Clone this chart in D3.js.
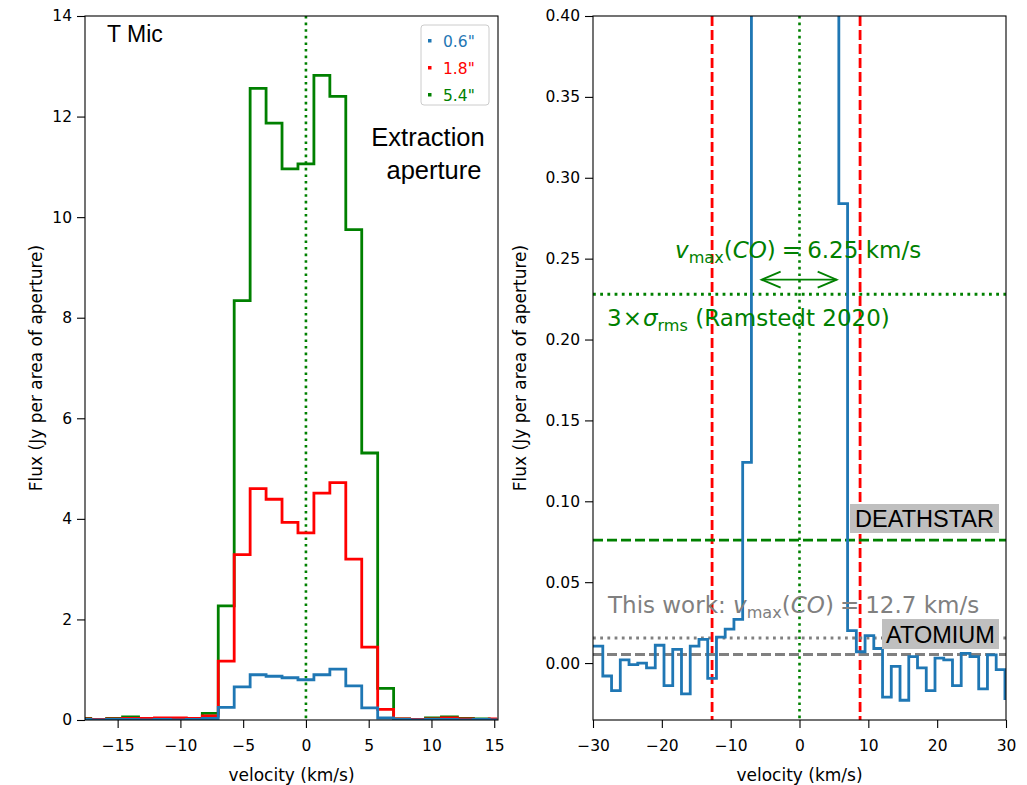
<!DOCTYPE html>
<html><head><meta charset="utf-8">
<script src="https://cdn.jsdelivr.net/npm/d3@7"></script>
<style>
body{margin:0;background:#fff;}
text{font-family:"DejaVu Sans",sans-serif;}
</style></head>
<body>
<svg id="chart" width="1027" height="785"></svg>
<script>
// ---------- data ----------
const leftVelocity = [-17.78,-16.51,-15.24,-13.97,-12.70,-11.43,-10.16,-8.89,-7.62,-6.35,-5.08,-3.81,-2.54,-1.27,0,1.27,2.54,3.81,5.08,6.35,7.62,8.89,10.16,11.43,12.70,13.97,15.24];
const flux06 = [0.01,0.00,0.01,0.01,0.00,0.01,0.00,0.01,0.03,0.25,0.66,0.90,0.87,0.84,0.80,0.90,1.01,0.68,0.24,0.04,0.01,0.00,0.01,0.01,0.00,0.01,0.00];
const flux18 = [0.02,0.01,0.02,0.03,0.03,0.04,0.04,0.03,0.08,1.17,3.29,4.60,4.39,3.93,3.72,4.51,4.72,3.20,1.45,0.21,0.02,0.01,0.02,0.04,0.02,0.01,0.02];
const flux54 = [0.03,0.01,0.03,0.06,0.03,0.02,0.02,0.02,0.13,2.27,8.34,12.56,11.87,10.96,11.06,12.82,12.40,9.75,5.31,0.63,0.02,0.01,0.04,0.06,0.03,0.02,0.01];
const seriesLabels = ['0.6"','1.8"','5.4"'];
const seriesColors = ['#1f77b4','#ff0000','#008000'];

const rightVelocity = [-30.48,-29.21,-27.94,-26.67,-25.40,-24.13,-22.86,-21.59,-20.32,-19.05,-17.78,-16.51,-15.24,-13.97,-12.70,-11.43,-10.16,-8.89,-7.62,-6.35,-5.08,-3.81,-2.54,-1.27,0,1.27,2.54,3.81,5.08,6.35,7.62,8.89,10.16,11.43,12.70,13.97,15.24,16.51,17.78,19.05,20.32,21.59,22.86,24.13,25.40,26.67,27.94,29.21,30.48];
const fluxRight = [0.0105,0.0105,-0.008,-0.017,0.002,-0.001,0.000,-0.003,0.011,-0.014,0.0085,-0.019,0.0105,0.0146,-0.0095,0.016,0.021,0.027,0.124,0.62,0.86,0.95,0.92,0.88,0.86,0.93,1.00,0.84,0.55,0.284,0.020,0.007,0.017,0.009,-0.021,-0.002,-0.023,0.004,-0.003,-0.017,0.003,0.002,-0.014,0.006,0.004,-0.016,0.005,-0.004,-0.022];

const leftXTicks = [-15,-10,-5,0,5,10,15];
const leftYTicks = [0,2,4,6,8,10,12,14];
const rightXTicks = [-30,-20,-10,0,10,20,30];
const rightYTicks = [0,0.05,0.10,0.15,0.20,0.25,0.30,0.35,0.40];

const vmaxLines = [-12.7, 8.8];         // red dashed
const systemic = 0;                      // green dotted
const sigmaLevel = 0.228;                // 3 x sigma_rms (Ramstedt 2020)
const deathstarLevel = 0.076;
const thisWorkLevel = 0.0155;
const atomiumLevel = 0.0053;
const arrowRange = [-5.5, 5.4];
const arrowLevel = 0.237;

// ---------- setup ----------
const svg = d3.select('#chart');
const TOP = 16, BOTTOM = 720;
const L = {x0:85, x1:498, ylab:43}, R = {x0:593, x1:1006, ylab:67};
const tickFont = '15.5px';
const labelFont = '17px';

const xL = d3.scaleLinear().domain([-17.6,15.3]).range([L.x0,L.x1]);
const yL = d3.scaleLinear().domain([0,14]).range([BOTTOM,TOP]);
const xR = d3.scaleLinear().domain([-30,30]).range([R.x0,R.x1]);
const yR = d3.scaleLinear().domain([-0.0352,0.40]).range([BOTTOM,TOP]);

const defs = svg.append('defs');
defs.append('clipPath').attr('id','clipL').append('rect')
  .attr('x',L.x0).attr('y',TOP).attr('width',L.x1-L.x0).attr('height',BOTTOM-TOP);
defs.append('clipPath').attr('id','clipR').append('rect')
  .attr('x',R.x0).attr('y',TOP).attr('width',R.x1-R.x0).attr('height',BOTTOM-TOP);

function axes(x, y, xt, yt, yfmt, box){
  const gx = svg.append('g').attr('transform',`translate(0,${BOTTOM})`)
    .call(d3.axisBottom(x).tickValues(xt).tickSize(8).tickPadding(12).tickSizeOuter(0));
  const gy = svg.append('g').attr('transform',`translate(${box.x0},0)`)
    .call(d3.axisLeft(y).tickValues(yt).tickFormat(yfmt).tickSize(8).tickPadding(5).tickSizeOuter(0));
  [gx,gy].forEach(g=>{
    g.select('.domain').remove();
    g.selectAll('text').style('font-size',tickFont).style('font-family','DejaVu Sans').attr('fill','#000');
    g.selectAll('line').attr('stroke','#000').attr('stroke-width',1.1);
  });
}
function frame(box){
  svg.append('rect').attr('x',box.x0).attr('y',TOP).attr('width',box.x1-box.x0).attr('height',BOTTOM-TOP)
    .attr('fill','none').attr('stroke','#000').attr('stroke-width',1.1);
}
function labels(box){
  svg.append('text').attr('x',(box.x0+box.x1)/2).attr('y',781).attr('text-anchor','middle')
    .style('font-size',labelFont).text('velocity (km/s)');
  svg.append('text').attr('transform',`translate(${box.x0-box.ylab},${(TOP+BOTTOM)/2}) rotate(-90)`)
    .attr('text-anchor','middle').style('font-size',labelFont).text('Flux (Jy per area of aperture)');
}

// ---------- left panel ----------
axes(xL,yL,leftXTicks,leftYTicks,d3.format('d'),L);
const gL = svg.append('g').attr('clip-path','url(#clipL)');
gL.append('line').attr('x1',xL(systemic)).attr('x2',xL(systemic)).attr('y1',TOP).attr('y2',BOTTOM)
  .attr('stroke','#008000').attr('stroke-width',2.6).attr('stroke-dasharray','2.6,4');
const leftSeries = [flux06, flux18, flux54];
const lineL = d3.line().curve(d3.curveStep);
[2,1,0].forEach(i=>{
  const pts = leftVelocity.map((v,j)=>[xL(v), yL(leftSeries[i][j])]);
  gL.append('path').attr('d',lineL(pts)).attr('fill','none')
    .attr('stroke',seriesColors[i]).attr('stroke-width',2.8).attr('stroke-linejoin','miter');
});
frame(L);
labels(L);
svg.append('text').attr('x',107).attr('y',42).style('font-family','Liberation Sans, Arial, sans-serif')
  .style('font-size','23px').text('T Mic');
svg.append('text').attr('x',428).attr('y',146).attr('text-anchor','middle')
  .style('font-family','Liberation Sans, Arial, sans-serif').style('font-size','25.5px').text('Extraction');
svg.append('text').attr('x',434).attr('y',179).attr('text-anchor','middle')
  .style('font-family','Liberation Sans, Arial, sans-serif').style('font-size','25.5px').text('aperture');
// legend
const leg = svg.append('g');
leg.append('rect').attr('x',421).attr('y',25).attr('width',68).attr('height',80).attr('rx',3)
  .attr('fill','#fff').attr('fill-opacity',0.8).attr('stroke','#cccccc').attr('stroke-width',1);
seriesLabels.forEach((lab,i)=>{
  const cy = 41 + i*27;
  leg.append('rect').attr('x',428).attr('y',cy-2).attr('width',3.5).attr('height',3.5).attr('fill',seriesColors[i]);
  leg.append('text').attr('x',443).attr('y',cy+5.5).attr('fill',seriesColors[i])
    .style('font-size','15.5px').text(lab);
});

// ---------- right panel ----------
axes(xR,yR,rightXTicks,rightYTicks,d3.format('.2f'),R);
const gR = svg.append('g').attr('clip-path','url(#clipR)');
vmaxLines.forEach(v=>{
  gR.append('line').attr('x1',xR(v)).attr('x2',xR(v)).attr('y1',TOP).attr('y2',BOTTOM)
    .attr('stroke','#ff0000').attr('stroke-width',2.8).attr('stroke-dasharray','10,4');
});
gR.append('line').attr('x1',xR(systemic)).attr('x2',xR(systemic)).attr('y1',TOP).attr('y2',BOTTOM)
  .attr('stroke','#008000').attr('stroke-width',2.6).attr('stroke-dasharray','2.6,4');
function hline(val, color, dash){
  gR.append('line').attr('x1',R.x0).attr('x2',R.x1).attr('y1',yR(val)).attr('y2',yR(val))
    .attr('stroke',color).attr('stroke-width',2.8).attr('stroke-dasharray',dash);
}
hline(sigmaLevel,'#008000','2.8,4.4');
hline(deathstarLevel,'#008000','10,4');
hline(thisWorkLevel,'#808080','2.8,4.4');
hline(atomiumLevel,'#808080','10,4');
const ptsR = rightVelocity.map((v,j)=>[xR(v), yR(fluxRight[j])]);
gR.append('path').attr('d',d3.line().curve(d3.curveStep)(ptsR)).attr('fill','none')
  .attr('stroke','#1f77b4').attr('stroke-width',2.8);
frame(R);
labels(R);

// arrow
const ay = yR(arrowLevel), ax0 = xR(arrowRange[0]), ax1 = xR(arrowRange[1]);
const arr = svg.append('g').attr('stroke','#008000').attr('stroke-width',1.8).attr('fill','none');
arr.append('line').attr('x1',ax0).attr('x2',ax1).attr('y1',ay).attr('y2',ay);
arr.append('path').attr('d',`M${ax0+19},${ay-8} L${ax0},${ay} L${ax0+19},${ay+8}`);
arr.append('path').attr('d',`M${ax1-19},${ay-8} L${ax1},${ay} L${ax1-19},${ay+8}`);

function mathText(x, y, color, parts, size){
  const t = svg.append('text').attr('x',x).attr('y',y).attr('fill',color).style('font-size',size+'px');
  parts.forEach(p=>{
    const s = t.append('tspan').text(p.t);
    if(p.i) s.style('font-style','italic');
    if(p.sub){ s.style('font-size',(size*0.7)+'px').attr('dy',size*0.22); }
    if(p.up){ s.attr('dy',-size*0.22); }
    if(p.dx){ s.attr('dx',p.dx); }
  });
  return t;
}
mathText(675,258,'#008000',[{t:'v',i:1},{t:'max',sub:1},{t:'(',up:1},{t:'CO',i:1},{t:')'},{t:'=',dx:6},{t:'6.25',dx:6},{t:' km/s'}],23);
mathText(607,326,'#008000',[{t:'3'},{t:'×',dx:1},{t:'σ',i:1,dx:1},{t:'rms',sub:1},{t:' (Ramstedt 2020)',up:1}],23);
mathText(608,613,'#808080',[{t:'This work: '},{t:'v',i:1},{t:'max',sub:1},{t:'(',up:1},{t:'CO',i:1},{t:')'},{t:'=',dx:6},{t:'12.7',dx:6},{t:' km/s'}],23);

function boxLabel(x, yTop, w, h, txt){
  svg.append('rect').attr('x',x).attr('y',yTop).attr('width',w).attr('height',h).attr('fill','#bfbfbf');
  svg.append('text').attr('x',x+w/2).attr('y',yTop+h-6).attr('text-anchor','middle')
    .style('font-family','Liberation Sans, Arial, sans-serif').style('font-size','23.5px').text(txt);
}
boxLabel(850,504,149,29,'DEATHSTAR');
boxLabel(882,619,117,30,'ATOMIUM');
</script>
</body></html>
